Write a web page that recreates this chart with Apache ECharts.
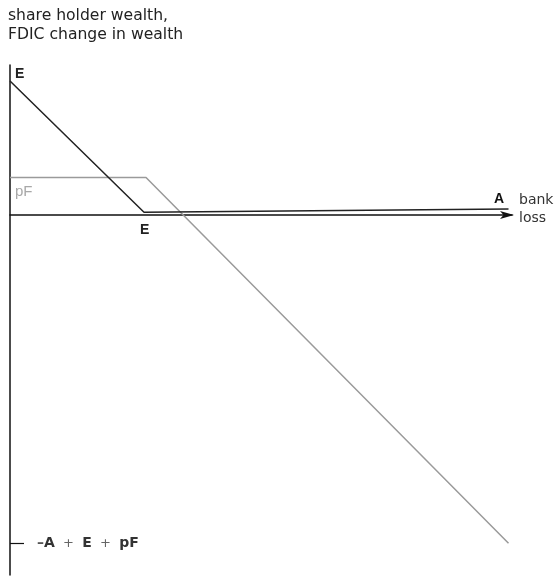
<!DOCTYPE html>
<html>
<head>
<meta charset="utf-8">
<style>
  html, body { margin: 0; padding: 0; background: #fff; }
  #chart { width: 554px; height: 579px; }
</style>
<script src="https://cdn.jsdelivr.net/npm/echarts@6/dist/echarts.min.js"></script>
</head>
<body>
<div id="chart"></div>
<script>
// Values in units of equity (E = 1)
const E = 1;
const pF = 0.28;
const A = 3.72;
const bottomValue = -2.45;          // -A + E + pF

// Shareholder wealth: falls from E to ~0 at loss E, then stays flat
const shareholderPoints = [[0, 1], [1, 0.02], [3.72, 0.045]];
// FDIC change in wealth: pF until loss E, then falls one-for-one
const fdicPoints = [[0, 0.28], [1.015, 0.28], [3.72, -2.45]];

const tickValues = [bottomValue];

const font = '"DejaVu Sans", Verdana, sans-serif';
const fontNarrow = '"Liberation Sans", Arial, Helvetica, sans-serif';

const chart = echarts.init(document.getElementById('chart'), null, { renderer: 'canvas' });

chart.setOption({
  backgroundColor: '#ffffff',
  animation: false,
  grid: { left: 10, top: 65, width: 502, height: 510, containLabel: false },
  xAxis: {
    type: 'value',
    min: 0,
    max: 3.746,
    splitLine: { show: false },
    axisTick: { show: false },
    axisLabel: { show: false },
    axisLine: {
      onZero: true,
      lineStyle: { color: '#111', width: 1.5 },
      symbol: ['none', 'arrow'],
      symbolSize: [6, 14],
      symbolOffset: [0, 2]
    }
  },
  yAxis: {
    type: 'value',
    min: -2.687,
    max: 1.119,
    splitLine: { show: false },
    axisLine: { onZero: false, lineStyle: { color: '#111', width: 1.5 } },
    axisTick: {
      show: true,
      inside: true,
      length: 14,
      customValues: tickValues,
      lineStyle: { color: '#111', width: 1.2 }
    },
    axisLabel: {
      show: true,
      inside: true,
      margin: 27,
      customValues: tickValues,
      formatter: () => '{m|–}{b|A}{op|  +  }{b|E}{op|  +  }{b|pF}',
      rich: {
        b: { fontFamily: font, fontSize: 14, fontWeight: 'bold', color: '#333' },
        m: { fontFamily: font, fontSize: 14, fontWeight: 'bold', color: '#555' },
        op: { fontFamily: font, fontSize: 13, color: '#666' }
      }
    }
  },
  series: [
    {
      name: 'shareholder wealth',
      type: 'line',
      data: shareholderPoints,
      symbol: 'none',
      lineStyle: { color: '#222', width: 1.5 },
      z: 3
    },
    {
      name: 'FDIC change in wealth',
      type: 'line',
      data: fdicPoints,
      symbol: 'none',
      lineStyle: { color: '#9a9a9a', width: 1.5 },
      z: 2
    }
  ],
  graphic: [
    { type: 'text', left: 8, top: 8, style: { text: 'share holder wealth,', font: '15.6px ' + font, fill: '#222' } },
    { type: 'text', left: 8, top: 27, style: { text: 'FDIC change in wealth', font: '15.6px ' + font, fill: '#222' } },
    { type: 'text', left: 15, top: 67, style: { text: 'E', font: 'bold 14px ' + fontNarrow, fill: '#222' } },
    { type: 'text', left: 15, top: 184, style: { text: 'pF', font: '15px ' + fontNarrow, fill: '#a8a8a8' } },
    { type: 'text', left: 140, top: 223, style: { text: 'E', font: 'bold 14px ' + fontNarrow, fill: '#222' } },
    { type: 'text', left: 494, top: 192, style: { text: 'A', font: 'bold 14px ' + fontNarrow, fill: '#111' } },
    { type: 'text', left: 519, top: 193, style: { text: 'bank', font: '14px ' + font, fill: '#333' } },
    { type: 'text', left: 519, top: 211, style: { text: 'loss', font: '14px ' + font, fill: '#333' } }
  ]
});
</script>
</body>
</html>
